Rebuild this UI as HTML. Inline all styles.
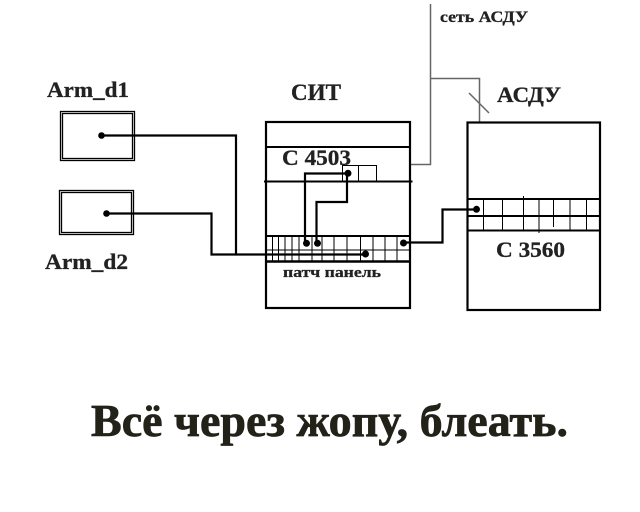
<!DOCTYPE html>
<html>
<head>
<meta charset="utf-8">
<style>
  html,body{margin:0;padding:0;background:#fff;}
  svg{display:block;}
  text{font-family:"Liberation Serif","Noto Serif CJK SC",serif;font-weight:bold;fill:#222;stroke:#222;stroke-width:0.3;}
</style>
</head>
<body>
<svg width="640" height="512" viewBox="0 0 640 512" xmlns="http://www.w3.org/2000/svg">
  <rect x="0" y="0" width="640" height="512" fill="#fff"/>

  <!-- Labels -->
  <text x="47" y="97" font-size="22" textLength="82" lengthAdjust="spacingAndGlyphs">Arm_d1</text>
  <text x="45" y="269" font-size="22" textLength="83" lengthAdjust="spacingAndGlyphs">Arm_d2</text>
  <text x="291" y="100" font-size="23" textLength="50" lengthAdjust="spacingAndGlyphs">СИТ</text>
  <text x="497" y="102" font-size="22" textLength="64" lengthAdjust="spacingAndGlyphs">АСДУ</text>
  <text x="440" y="22" font-size="16" textLength="88" lengthAdjust="spacingAndGlyphs">сеть АСДУ</text>

  <!-- Arm boxes (double border) -->
  <rect x="60.5" y="111.5" width="74" height="49" fill="none" stroke="#000" stroke-width="1.3"/>
  <rect x="62.5" y="113.5" width="70" height="45" fill="none" stroke="#000" stroke-width="1.3"/>
  <rect x="59.5" y="190.5" width="74" height="44" fill="none" stroke="#000" stroke-width="1.3"/>
  <rect x="61.5" y="192.5" width="70" height="40" fill="none" stroke="#000" stroke-width="1.3"/>

  <!-- grey network lines -->
  <g stroke="#666" stroke-width="1.5" fill="none">
    <path d="M430.5,4 V164.5 H411"/>
    <path d="M430.5,78.5 H479.5 V122"/>
    <path d="M469,93 L489,113"/>
  </g>

  <!-- SIT box -->
  <g stroke="#000" fill="none">
    <rect x="266" y="122" width="144" height="186" stroke-width="2.2"/>
    <line x1="266" y1="147" x2="410" y2="147" stroke-width="2"/>
    <line x1="264" y1="181.5" x2="412.5" y2="181.5" stroke-width="2"/>
    <rect x="342.5" y="165.5" width="34" height="16" stroke-width="1"/>
    <line x1="358.5" y1="165.5" x2="358.5" y2="181.5" stroke-width="1"/>
    <!-- patch panel -->
    <line x1="266" y1="236" x2="410" y2="236" stroke-width="2"/>
    <line x1="266" y1="250" x2="410" y2="250" stroke-width="1"/>
    <line x1="266" y1="261.5" x2="410" y2="261.5" stroke-width="2.5"/>
    <g stroke-width="1">
      <line x1="272.5" y1="236" x2="272.5" y2="261"/>
      <line x1="278.5" y1="236" x2="278.5" y2="261"/>
      <line x1="285" y1="236" x2="285" y2="261"/>
      <line x1="292" y1="236" x2="292" y2="261"/>
      <line x1="299" y1="236" x2="299" y2="261"/>
      <line x1="312" y1="236" x2="312" y2="261"/>
      <line x1="322" y1="236" x2="322" y2="261"/>
      <line x1="334" y1="236" x2="334" y2="261"/>
      <line x1="347" y1="236" x2="347" y2="261"/>
      <line x1="360.5" y1="236" x2="360.5" y2="261"/>
      <line x1="373" y1="236" x2="373" y2="261"/>
      <line x1="385" y1="236" x2="385" y2="261"/>
      <line x1="397" y1="236" x2="397" y2="261"/>
    </g>
  </g>
  <text x="282" y="165" font-size="22" textLength="69" lengthAdjust="spacingAndGlyphs">С 4503</text>
  <text x="283" y="277" font-size="15" textLength="98" lengthAdjust="spacingAndGlyphs">патч панель</text>

  <!-- ASDU box -->
  <g stroke="#000" fill="none">
    <rect x="467.5" y="122.5" width="132.5" height="187.5" stroke-width="2.2"/>
    <line x1="467.5" y1="199" x2="600" y2="199" stroke-width="2"/>
    <line x1="467.5" y1="216" x2="600" y2="216" stroke-width="2"/>
    <line x1="467.5" y1="230.5" x2="600" y2="230.5" stroke-width="2"/>
    <g stroke-width="1">
      <line x1="483.5" y1="199" x2="483.5" y2="230"/>
      <line x1="502.5" y1="199" x2="502.5" y2="230"/>
      <line x1="523.5" y1="196" x2="523.5" y2="230"/>
      <line x1="539" y1="199" x2="539" y2="233"/>
      <line x1="553.5" y1="199" x2="553.5" y2="227"/>
      <line x1="570" y1="199" x2="570" y2="230"/>
      <line x1="586.5" y1="199" x2="586.5" y2="230"/>
    </g>
  </g>
  <text x="496" y="257" font-size="22" textLength="69" lengthAdjust="spacingAndGlyphs">С 3560</text>

  <!-- wires -->
  <g stroke="#000" stroke-width="2.2" fill="none">
    <path d="M101,135.5 H236 V254.5"/>
    <path d="M106,213.5 H211.5 V254.5 H365"/>
    <path d="M348,173.5 H305 V243"/>
    <path d="M347,173.5 V202 H316.5 V243"/>
    <path d="M403,242.5 H442.5 V209.5 H477"/>
  </g>
  <g fill="#000">
    <circle cx="101.5" cy="135.5" r="3.3"/>
    <circle cx="106.5" cy="213.5" r="3.3"/>
    <circle cx="348" cy="173.3" r="3.5"/>
    <circle cx="306.5" cy="243.3" r="3.5"/>
    <circle cx="317.5" cy="243.3" r="3.5"/>
    <circle cx="365.5" cy="254" r="3.5"/>
    <circle cx="403.5" cy="243" r="3.5"/>
    <circle cx="476.5" cy="209.3" r="3.5"/>
  </g>

  <!-- Big caption -->
  <text x="91" y="436" font-size="46" textLength="477" lengthAdjust="spacingAndGlyphs" style="fill:#222219;stroke:#222219;stroke-width:0.7">Всё через жопу, блеать.</text>
</svg>
</body>
</html>
